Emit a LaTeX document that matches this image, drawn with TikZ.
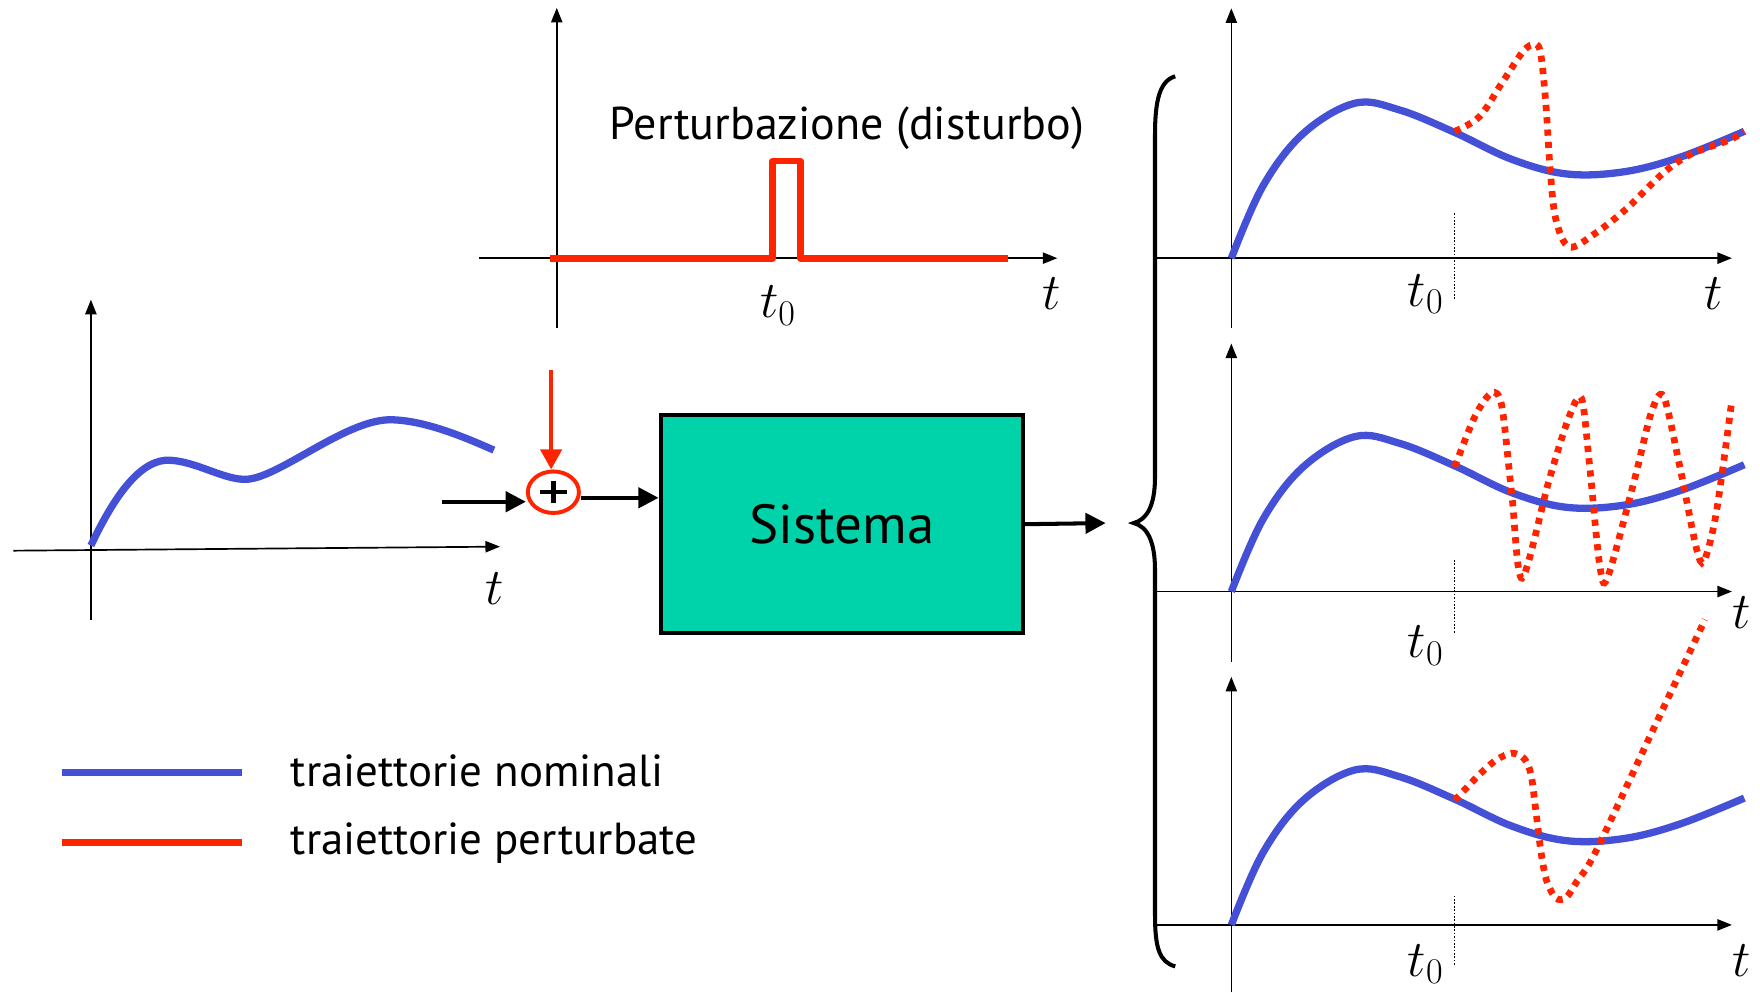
\RequirePackage{fix-cm}
\documentclass[tikz,border=0pt]{standalone}
\usepackage{fontspec}
\setmainfont{PT Sans}
\usetikzlibrary{arrows.meta,shapes.geometric}
\definecolor{nomblue}{RGB}{68,80,214}
\definecolor{pertred}{RGB}{255,36,0}
\definecolor{systeal}{RGB}{0,210,170}
\begin{document}
\begin{tikzpicture}[x=1pt,y=-1pt,
  axis/.style={line width=1.5pt,-{Triangle[length=13pt,width=10pt]}},
  nom/.style={nomblue,line width=6.5pt},
  pert/.style={pertred,line width=6pt,dash pattern=on 5.5pt off 5.5pt},
  tickline/.style={line width=1.1pt,dash pattern=on 1.5pt off 1.5pt},
  mathlbl/.style={font=\fontsize{46}{52}\selectfont,inner sep=0pt},
  txt/.style={font=\fontsize{40}{46}\selectfont,inner sep=0pt},
  flow/.style={line width=3.6pt,-{Triangle[length=18pt,width=18pt]}},
  redflow/.style={pertred,line width=3.4pt,-{Triangle[length=18pt,width=19pt]}},
  sumnode/.style={ellipse,draw=pertred,line width=3.5pt,minimum width=45.5pt,minimum height=37pt,inner sep=0pt},
  sysbox/.style={rectangle,draw=black,fill=systeal,line width=3.6pt,minimum width=323pt,minimum height=194pt,font=\fontsize{49}{56}\selectfont},
  nominal/.pic={\draw[nom] plot[smooth,tension=0.6] coordinates {(0,0) (28,-64) (64,-111) (110,-138) (150,-132) (199,-112) (250,-88) (299,-75) (350,-77) (400,-90) (457,-113)};}
]
\useasboundingbox (0,0) rectangle (1568,884);

% ---- disturbance plot (top)
\draw[axis] (496,292) -- (496,7);
\draw[axis] (427,230) -- (942,230);
\draw[pertred,line width=6pt,line join=round] (490,230) -- (688.5,230) -- (688.5,143.5) -- (713,143.5) -- (713,230) -- (898,230);
\node[txt,anchor=base west,font=\fontsize{41}{47}\selectfont] (pertlbl) at (543,124) {Perturbazione (disturbo)};
\node[mathlbl] (t0top) at (693,272) {$t_0$};
\node[mathlbl] (ttop) at (937,262) {$t$};

% ---- input plot (left)
\draw[axis] (81,552) -- (81,267);
\draw[axis] (12,490.6) -- (445.5,487);
\draw[nom] (81,486) .. controls (105,435) and (128,409) .. (151,410)
  .. controls (175,411) and (200,428) .. (220,427)
  .. controls (250,425) and (310,372) .. (350,374)
  .. controls (380,375) and (415,390) .. (440,401);
\node[mathlbl] (tleft) at (441,524) {$t$};

% ---- block diagram
\node[sumnode] (sum) at (493,438.5) {};
\draw[line width=4pt] ([xshift=-12pt]sum.center) -- ([xshift=12pt]sum.center)
                      ([yshift=-9.7pt]sum.center) -- ([yshift=9.7pt]sum.center);
\node[sysbox] (sys) at (750,467) {Sistema};
\coordinate (inStart) at (394,447);
\coordinate (dStart) at (491,330);
\coordinate (outEnd) at (985,466);
\draw[flow] (inStart) -- (inStart -| sum.west);
\draw[flow] ([yshift=-5pt]sum.east) -- ([yshift=-5pt]sum.east -| sys.west);
\draw[redflow] (dStart) -- (dStart |- sum.north);
\draw[flow] (sys.east) -- (outEnd);

% ---- brace
\draw[line width=3.6pt] (1047,68) .. controls (1033,72) and (1029,90) .. (1029,120) -- (1029,425)
  .. controls (1029,450) and (1022,463) .. (1010,466)
  .. controls (1022,469) and (1029,482) .. (1029,508) -- (1029,815)
  .. controls (1029,845) and (1033,857) .. (1047,861);

% ---- right plot 1
\draw[axis] (1097,292.5) -- (1097,7.4);
\draw[axis] (1030.5,230) -- (1543,230);
\draw[tickline] (1296,190) -- (1296,266);
\pic at (1097,230) {nominal};
\draw[pert] plot[smooth,tension=0.55] coordinates {(1296,117) (1318,104) (1338,74) (1356,47) (1365,40) (1372,45) (1377,90) (1381,150) (1386,195) (1398,220) (1421,208) (1449,186) (1482,154) (1507,137) (1540,125) (1554,117)};
\node[mathlbl] (t0r1) at (1270,262) {$t_0$};
\node[mathlbl] (tr1) at (1527,262) {$t$};

% ---- right plot 2
\draw[axis] (1097,589.5) -- (1097,306);
\draw[axis] (1030.5,527) -- (1543,527);
\draw[tickline] (1296,499) -- (1296,564);
\pic at (1097,527) {nominal};
\draw[pert] plot[smooth,tension=0.5] coordinates {(1296,416) (1314,371) (1329,350) (1338,362) (1347,442) (1356,515) (1380,428) (1398,371) (1409,355) (1416,413) (1425,502) (1432,515) (1456,428) (1471,368) (1482,353) (1496,413) (1511,487) (1518,500) (1529,457) (1543,356)};
\node[mathlbl] (t0r2) at (1270,575) {$t_0$};
\node[mathlbl] (tr2) at (1552,546) {$t$};

% ---- right plot 3
\draw[axis] (1097,884) -- (1097,603);
\draw[axis] (1030.5,824) -- (1543,824);
\draw[tickline] (1296,798) -- (1296,861);
\pic at (1097,824) {nominal};
\draw[pert] plot[smooth,tension=0.5] coordinates {(1296,713) (1318,690) (1333,677) (1347,671) (1358,676) (1364,690) (1368,720) (1373,760) (1378,785) (1386,800) (1395,800) (1405,785) (1421,760) (1470,656) (1519,552)};
\node[mathlbl] (t0r3) at (1270,859) {$t_0$};
\node[mathlbl] (tr3) at (1552,856) {$t$};

% ---- legend
\coordinate (lbA) at (55,688.4);
\coordinate (lbB) at (216,688.4);
\coordinate (lrA) at (55,750.5);
\coordinate (lrB) at (216,750.5);
\draw[nomblue,line width=6pt] (lbA) -- (lbB);
\draw[pertred,line width=6pt] (lrA) -- (lrB);
\node[txt,anchor=base west] (leg1) at (259,701) {traiettorie nominali};
\node[txt,anchor=base west] (leg2) at (259,761.7) {traiettorie perturbate};
\end{tikzpicture}
\end{document}
